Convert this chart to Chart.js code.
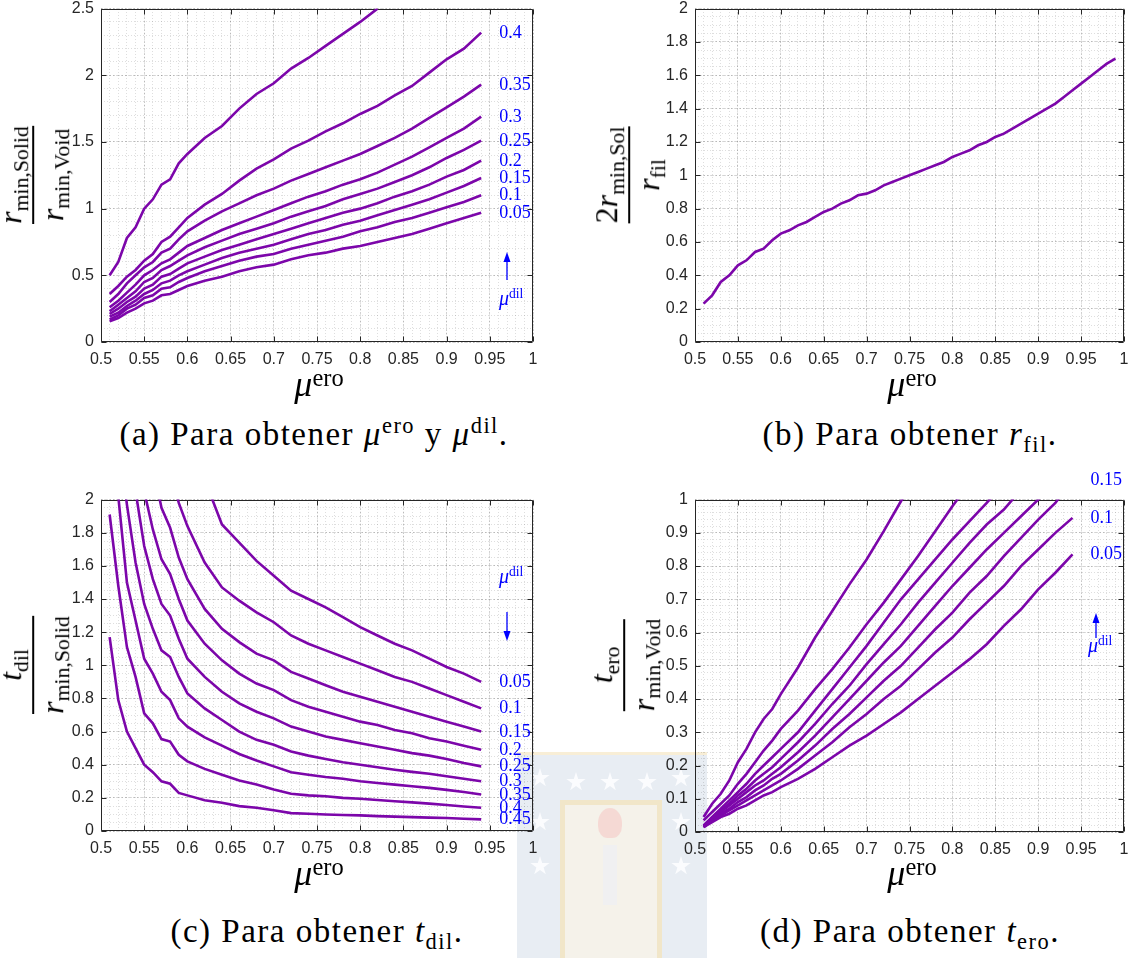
<!DOCTYPE html>
<html><head><meta charset="utf-8"><title>Gráficas de diseño</title>
<script src="https://cdn.jsdelivr.net/npm/chart.js@4.4.1/dist/chart.umd.min.js"></script>
<style>
html,body{margin:0;padding:0;background:#fff;}
#page{position:relative;width:1128px;height:958px;overflow:hidden;background:#fff;font-family:"Liberation Serif","Times New Roman",serif;color:#000;}
.panel{position:absolute;}
.panel canvas{display:block;}
.t{position:absolute;white-space:nowrap;line-height:1;}
.c{transform:translateX(-50%);}
.mi{font-style:italic;}
.sb{font-size:0.68em;position:relative;top:0.3em;}
.sp{font-size:0.68em;position:relative;top:-0.55em;}
.spx{font-size:0.68em;position:relative;top:-0.42em;}
.cap{letter-spacing:1.5px;font-size:33px;}
.frac{position:absolute;display:flex;flex-direction:column;align-items:center;white-space:nowrap;line-height:1;font-size:32px;transform:translate(-50%,-50%) rotate(-90deg);}
.frac .bar{align-self:stretch;height:1.6px;background:#000;margin:6px 0 2px;}
.blue{position:absolute;white-space:nowrap;line-height:1;color:#0000ff;font-size:18px;transform:translateY(-50%);}
.wm{position:absolute;opacity:0.7;}
.star{position:absolute;width:20px;height:20px;background:#fbfcfe;clip-path:polygon(50% 0%,61% 35%,98% 35%,68% 57%,79% 91%,50% 70%,21% 91%,32% 57%,2% 35%,39% 35%);}
</style></head>
<body>
<div id="page">
  <!-- faint watermark -->
  <div class="wm" style="left:517px;top:752px;width:190px;height:206px;background:#dfe6ef;border-top:3px solid #f6e8c6;"></div>
  <div class="wm" style="left:560px;top:800px;width:92px;height:158px;background:#fbf5e7;border:5px solid #f6e4b8;border-bottom:none;"></div>
  <div class="wm" style="left:598px;top:808px;width:24px;height:30px;background:#f5cfcb;border-radius:50% 50% 40% 40%;"></div>
  <div class="wm" style="left:603px;top:845px;width:14px;height:60px;background:#eef0f4;"></div>
  <div class="star" style="left:530px;top:768px"></div>
  <div class="star" style="left:566px;top:772px"></div>
  <div class="star" style="left:600px;top:772px"></div>
  <div class="star" style="left:637px;top:772px"></div>
  <div class="star" style="left:671px;top:768px"></div>
  <div class="star" style="left:530px;top:812px"></div>
  <div class="star" style="left:671px;top:812px"></div>
  <div class="star" style="left:530px;top:856px"></div>
  <div class="star" style="left:671px;top:856px"></div>

  <!-- y-axis fraction labels -->
  <div class="frac" style="left:31px;top:175px"><div><span class="mi">r</span><span class="sb">min,Solid</span></div><div class="bar"></div><div><span class="mi">r</span><span class="sb">min,Void</span></div></div>
  <div class="frac" style="left:627px;top:175px"><div>2<span class="mi">r</span><span class="sb">min,Sol</span></div><div class="bar"></div><div><span class="mi">r</span><span class="sb">fil</span></div></div>
  <div class="frac" style="left:31px;top:665px"><div><span class="mi">t</span><span class="sb">dil</span></div><div class="bar"></div><div><span class="mi">r</span><span class="sb">min,Solid</span></div></div>
  <div class="frac" style="left:622px;top:665px"><div><span class="mi">t</span><span class="sb">ero</span></div><div class="bar"></div><div><span class="mi">r</span><span class="sb">min,Void</span></div></div>

  <!-- x-axis labels -->
  <div class="t c" style="left:319px;top:366px;font-size:36px"><span class="mi">μ</span><span class="spx">ero</span></div>
  <div class="t c" style="left:912px;top:366px;font-size:36px"><span class="mi">μ</span><span class="spx">ero</span></div>
  <div class="t c" style="left:319px;top:855px;font-size:36px"><span class="mi">μ</span><span class="spx">ero</span></div>
  <div class="t c" style="left:912px;top:855px;font-size:36px"><span class="mi">μ</span><span class="spx">ero</span></div>

  <!-- captions -->
  <div class="t c cap" style="left:314px;top:418px">(a) Para obtener <span class="mi">μ</span><span class="sp">ero</span> y <span class="mi">μ</span><span class="sp">dil</span>.</div>
  <div class="t c cap" style="left:910px;top:418px">(b) Para obtener <span class="mi">r</span><span class="sb">fil</span>.</div>
  <div class="t c cap" style="left:317px;top:915px">(c) Para obtener <span class="mi">t</span><span class="sb">dil</span>.</div>
  <div class="t c cap" style="left:910px;top:915px">(d) Para obtener <span class="mi">t</span><span class="sb">ero</span>.</div>

  <!-- mu_dil direction notes -->
  <div class="t" style="left:499px;top:288px;color:#00f;font-size:20px"><span class="mi">μ</span><span class="sp">dil</span></div>
  <div class="t" style="left:499px;top:566px;color:#00f;font-size:20px"><span class="mi">μ</span><span class="sp">dil</span></div>
  <div class="t" style="left:1088px;top:635px;color:#00f;font-size:20px"><span class="mi">μ</span><span class="sp">dil</span></div>
</div>
<script>
// ---------------- data ----------------
const MU_ERO = [0.51,0.52,0.53,0.54,0.55,0.56,0.57,0.58,0.59,0.60,0.62,0.64,0.66,0.68,0.70,0.72,0.74,0.76,0.78,0.80,0.82,0.84,0.86,0.88,0.90,0.92,0.94];
const MU_ERO_B = [0.51,0.52,0.53,0.54,0.55,0.56,0.57,0.58,0.59,0.60,0.61,0.62,0.63,0.64,0.65,0.66,0.67,0.68,0.69,0.70,0.71,0.72,0.73,0.74,0.75,0.76,0.77,0.78,0.79,0.80,0.81,0.82,0.83,0.84,0.85,0.86,0.87,0.88,0.89,0.90,0.91,0.92,0.93,0.94,0.95,0.96,0.97,0.98,0.99];

// (a) r_min,Solid / r_min,Void for each mu_dil
const A_DIL005 = [0.155,0.18,0.22,0.25,0.29,0.31,0.35,0.36,0.39,0.42,0.46,0.49,0.53,0.56,0.58,0.62,0.65,0.67,0.70,0.72,0.75,0.78,0.81,0.85,0.89,0.93,0.97];
const A_DIL010 = [0.17,0.20,0.25,0.28,0.33,0.35,0.40,0.41,0.45,0.48,0.53,0.57,0.61,0.64,0.66,0.70,0.73,0.76,0.79,0.83,0.86,0.90,0.93,0.97,1.01,1.05,1.10];
const A_DIL015 = [0.19,0.22,0.27,0.31,0.36,0.39,0.44,0.46,0.50,0.53,0.58,0.63,0.67,0.70,0.73,0.77,0.81,0.84,0.88,0.91,0.95,0.99,1.03,1.07,1.12,1.17,1.23];
const A_DIL020 = [0.21,0.25,0.30,0.34,0.40,0.43,0.49,0.51,0.55,0.59,0.64,0.69,0.73,0.77,0.81,0.85,0.89,0.93,0.97,1.00,1.04,1.09,1.13,1.18,1.24,1.29,1.36];
const A_DIL025 = [0.23,0.28,0.33,0.38,0.45,0.48,0.54,0.57,0.61,0.65,0.71,0.76,0.81,0.85,0.89,0.94,0.98,1.02,1.07,1.11,1.15,1.20,1.25,1.31,1.38,1.44,1.51];
const A_DIL030 = [0.26,0.31,0.37,0.43,0.50,0.54,0.59,0.62,0.67,0.72,0.78,0.84,0.89,0.94,0.99,1.04,1.09,1.13,1.18,1.22,1.27,1.33,1.39,1.46,1.53,1.60,1.69];
const A_DIL035 = [0.30,0.36,0.44,0.50,0.56,0.60,0.67,0.70,0.77,0.83,0.91,0.98,1.04,1.10,1.15,1.21,1.26,1.31,1.36,1.41,1.47,1.53,1.60,1.68,1.76,1.84,1.93];
const A_DIL040 = [0.36,0.42,0.49,0.54,0.61,0.66,0.75,0.79,0.86,0.93,1.03,1.11,1.21,1.30,1.37,1.45,1.51,1.58,1.64,1.71,1.77,1.85,1.92,2.02,2.12,2.20,2.32];
const A_DIL045 = [0.50,0.60,0.78,0.86,1.00,1.07,1.18,1.22,1.34,1.41,1.53,1.62,1.75,1.86,1.94,2.05,2.13,2.22,2.31,2.40,2.50];

// (b) 2 r_min,Sol / r_fil
const B_RATIO = [0.23,0.28,0.36,0.40,0.46,0.49,0.54,0.56,0.61,0.65,0.67,0.70,0.72,0.75,0.78,0.80,0.83,0.85,0.88,0.89,0.91,0.94,0.96,0.98,1.00,1.02,1.04,1.06,1.08,1.11,1.13,1.15,1.18,1.20,1.23,1.25,1.28,1.31,1.34,1.37,1.40,1.43,1.47,1.51,1.55,1.59,1.63,1.67,1.70];

// (c) t_dil / r_min,Solid for each mu_dil
const C_DIL005 = [null,null,null,null,null,null,null,null,null,null,2.12,1.85,1.74,1.63,1.54,1.45,1.40,1.35,1.29,1.23,1.18,1.13,1.09,1.04,0.99,0.95,0.90];
const C_DIL010 = [null,null,null,null,null,null,null,2.20,1.98,1.84,1.62,1.47,1.39,1.32,1.26,1.18,1.13,1.09,1.05,1.01,0.97,0.93,0.90,0.86,0.82,0.78,0.74];
const C_DIL015 = [null,null,null,null,null,2.20,1.95,1.83,1.65,1.52,1.34,1.22,1.14,1.07,1.03,0.96,0.92,0.88,0.84,0.81,0.78,0.75,0.72,0.69,0.66,0.63,0.60];
const C_DIL020 = [null,null,null,null,2.05,1.82,1.64,1.55,1.40,1.27,1.13,1.03,0.95,0.89,0.85,0.79,0.75,0.72,0.69,0.66,0.64,0.61,0.59,0.56,0.54,0.515,0.49];
const C_DIL025 = [null,null,null,2.05,1.72,1.52,1.37,1.30,1.16,1.04,0.93,0.84,0.77,0.72,0.68,0.63,0.60,0.57,0.55,0.53,0.51,0.49,0.47,0.455,0.435,0.41,0.39];
const C_DIL030 = [null,2.40,1.97,1.62,1.37,1.22,1.09,1.05,0.93,0.83,0.74,0.67,0.60,0.55,0.52,0.48,0.455,0.435,0.415,0.40,0.385,0.37,0.357,0.345,0.33,0.315,0.30];
const C_DIL035 = [null,2.02,1.50,1.27,1.04,0.95,0.84,0.79,0.68,0.63,0.565,0.515,0.465,0.425,0.39,0.355,0.34,0.326,0.315,0.30,0.29,0.28,0.27,0.26,0.248,0.235,0.22];
const C_DIL040 = [1.91,1.48,1.11,0.93,0.71,0.65,0.555,0.54,0.46,0.42,0.375,0.34,0.305,0.28,0.25,0.225,0.215,0.21,0.20,0.195,0.187,0.18,0.173,0.165,0.157,0.148,0.14];
const C_DIL045 = [1.17,0.79,0.60,0.50,0.40,0.355,0.30,0.285,0.23,0.215,0.185,0.17,0.15,0.14,0.125,0.108,0.104,0.10,0.097,0.094,0.09,0.087,0.084,0.081,0.078,0.074,0.07];

// (d) t_ero / r_min,Void for each mu_dil
const D_DIL005 = [0.015,0.03,0.045,0.055,0.07,0.08,0.095,0.11,0.12,0.135,0.16,0.19,0.225,0.26,0.29,0.325,0.36,0.40,0.44,0.48,0.52,0.565,0.62,0.67,0.73,0.78,0.835];
const D_DIL010 = [0.015,0.035,0.05,0.065,0.08,0.095,0.11,0.125,0.14,0.155,0.19,0.23,0.27,0.315,0.355,0.40,0.44,0.49,0.54,0.585,0.64,0.69,0.74,0.80,0.85,0.90,0.945];
const D_DIL015 = [0.015,0.035,0.055,0.07,0.09,0.105,0.125,0.14,0.16,0.175,0.215,0.26,0.31,0.355,0.405,0.455,0.50,0.555,0.61,0.66,0.72,0.77,0.83,0.885,0.94,0.99,1.06];
const D_DIL020 = [0.015,0.04,0.06,0.08,0.10,0.12,0.14,0.155,0.175,0.195,0.24,0.29,0.345,0.40,0.455,0.51,0.56,0.62,0.68,0.74,0.795,0.85,0.90,0.95,1.00,1.06];
const D_DIL025 = [0.018,0.04,0.065,0.085,0.11,0.13,0.155,0.175,0.195,0.22,0.27,0.325,0.385,0.44,0.505,0.565,0.625,0.69,0.75,0.81,0.87,0.925,0.97,1.03];
const D_DIL030 = [0.02,0.045,0.07,0.095,0.12,0.145,0.175,0.20,0.225,0.25,0.30,0.365,0.43,0.495,0.56,0.63,0.70,0.76,0.82,0.88,0.935,0.99,1.05];
const D_DIL035 = [0.035,0.06,0.085,0.11,0.145,0.175,0.21,0.245,0.275,0.31,0.365,0.43,0.49,0.555,0.625,0.69,0.76,0.83,0.905,0.98,1.05];
const D_DIL040 = [0.045,0.085,0.115,0.155,0.21,0.25,0.30,0.34,0.37,0.415,0.495,0.585,0.665,0.745,0.82,0.905,0.995,1.08];

// tick label sets (major) and curve labels
const X_TICKS = [0.5,0.55,0.6,0.65,0.7,0.75,0.8,0.85,0.9,0.95,1];
const DIL_LABELS = ['0.05','0.1','0.15','0.2','0.25','0.3','0.35','0.4','0.45'];

// ---------------- drawing ----------------
const PURPLE = 'rgb(124,6,170)';
const TICK_COLOR = '#262626';
const page = document.getElementById('page');

const frame = {
  id: 'frame',
  beforeDatasetsDraw(chart) {
    const {ctx, chartArea: a, scales} = chart;
    ctx.save();
    ctx.strokeStyle = TICK_COLOR;
    ctx.lineWidth = 1;
    const l = Math.round(a.left) + 0.5, r = Math.round(a.right) - 0.5;
    const t = Math.round(a.top) + 0.5, b = Math.round(a.bottom) - 0.5;
    ctx.beginPath();
    ctx.rect(l, t, r - l, b - t);
    const tl = 5;
    scales.x.ticks.forEach(tk => {
      const p = Math.round(scales.x.getPixelForValue(tk.value)) + 0.5;
      ctx.moveTo(p, b); ctx.lineTo(p, b - tl);
      ctx.moveTo(p, t); ctx.lineTo(p, t + tl);
    });
    scales.y.ticks.forEach(tk => {
      const p = Math.round(scales.y.getPixelForValue(tk.value)) + 0.5;
      ctx.moveTo(l, p); ctx.lineTo(l + tl, p);
      ctx.moveTo(r, p); ctx.lineTo(r - tl, p);
    });
    ctx.stroke();
    ctx.restore();
  }
};

const fmt = v => String(+(+v).toFixed(2));

function panel(cfg) {
  const padL = 60, padT = 15, padR = 15, padB = 40;
  const left = cfg.L - padL, top = cfg.T - padT;
  const div = document.createElement('div');
  div.className = 'panel';
  div.style.left = left + 'px';
  div.style.top = top + 'px';
  div.style.width = (cfg.R - cfg.L + padL + padR) + 'px';
  div.style.height = (cfg.B - cfg.T + padT + padB) + 'px';
  const cv = document.createElement('canvas');
  div.appendChild(cv);
  page.insertBefore(div, page.querySelector('.frac'));

  const datasets = cfg.series.map(s => ({
    data: s.xs.slice(0, s.ys.length).map((x, i) => ({x: x, y: s.ys[i]})),
    borderColor: PURPLE,
    borderWidth: 2.6,
    pointRadius: 0,
    fill: false,
    tension: 0,
    spanGaps: false
  }));

  const tickFont = {family: 'Liberation Sans', size: 16};
  const chart = new Chart(cv, {
    type: 'line',
    data: {datasets},
    options: {
      responsive: true,
      maintainAspectRatio: false,
      animation: false,
      events: [],
      layout: {padding: {left: 0, top: padT, right: padR, bottom: 0}},
      plugins: {legend: {display: false}, tooltip: {enabled: false}},
      scales: {
        x: {
          type: 'linear', position: 'bottom', min: cfg.xMin, max: cfg.xMax,
          afterBuildTicks: s => { s.ticks = cfg.xTicks.map(v => ({value: v})); },
          ticks: {callback: fmt, maxRotation: 0, autoSkip: false, padding: 8, color: TICK_COLOR, font: tickFont},
          grid: {color: 'rgba(0,0,0,0.17)', drawTicks: false, lineWidth: 1},
          border: {display: false, dash: [2, 2]},
          afterFit: s => { s.height = padB; }
        },
        y: {
          type: 'linear', position: 'left', min: cfg.yMin, max: cfg.yMax,
          ticks: {stepSize: cfg.yStep, callback: fmt, autoSkip: false, padding: 7, color: TICK_COLOR, font: tickFont},
          grid: {color: 'rgba(0,0,0,0.17)', drawTicks: false, lineWidth: 1},
          border: {display: false, dash: [2, 2]},
          afterFit: s => { s.width = padL; }
        },
        x2: {
          type: 'linear', position: 'top', min: cfg.xMin, max: cfg.xMax,
          ticks: {display: false, stepSize: cfg.xMinor, maxTicksLimit: 1000},
          grid: {color: 'rgba(0,0,0,0.13)', drawTicks: false, lineWidth: 1},
          border: {display: false, dash: [1, 2]},
          afterFit: s => { s.height = 0; }
        },
        y2: {
          type: 'linear', position: 'right', min: cfg.yMin, max: cfg.yMax,
          ticks: {display: false, stepSize: cfg.yMinor, maxTicksLimit: 1000},
          grid: {color: 'rgba(0,0,0,0.13)', drawTicks: false, lineWidth: 1},
          border: {display: false, dash: [1, 2]},
          afterFit: s => { s.width = 0; }
        }
      }
    },
    plugins: [frame]
  });

  // curve labels at the end of each labelled series
  cfg.series.forEach(s => {
    if (!s.label) return;
    const n = s.ys.length - 1;
    const px = chart.scales.x.getPixelForValue(s.xs[n]);
    const py = chart.scales.y.getPixelForValue(s.ys[n]);
    const el = document.createElement('div');
    el.className = 'blue';
    el.textContent = s.label;
    el.style.left = (left + px + 18) + 'px';
    el.style.top = (top + py - 1) + 'px';
    page.appendChild(el);
  });
  return chart;
}

Chart.defaults.font.family = 'Liberation Sans';

panel({
  L: 101, T: 7, R: 533, B: 342,
  xMin: 0.5, xMax: 1, xTicks: X_TICKS, xMinor: 0.01,
  yMin: 0, yMax: 2.5, yStep: 0.5, yMinor: 0.1,
  series: [
    {xs: MU_ERO, ys: A_DIL005, label: DIL_LABELS[0]},
    {xs: MU_ERO, ys: A_DIL010, label: DIL_LABELS[1]},
    {xs: MU_ERO, ys: A_DIL015, label: DIL_LABELS[2]},
    {xs: MU_ERO, ys: A_DIL020, label: DIL_LABELS[3]},
    {xs: MU_ERO, ys: A_DIL025, label: DIL_LABELS[4]},
    {xs: MU_ERO, ys: A_DIL030, label: DIL_LABELS[5]},
    {xs: MU_ERO, ys: A_DIL035, label: DIL_LABELS[6]},
    {xs: MU_ERO, ys: A_DIL040, label: DIL_LABELS[7]},
    {xs: MU_ERO, ys: A_DIL045, label: null}
  ]
});

panel({
  L: 695, T: 7, R: 1124, B: 342,
  xMin: 0.5, xMax: 1, xTicks: X_TICKS, xMinor: 0.01,
  yMin: 0, yMax: 2, yStep: 0.2, yMinor: 0.05,
  series: [{xs: MU_ERO_B, ys: B_RATIO, label: null}]
});

panel({
  L: 101, T: 498, R: 533, B: 831,
  xMin: 0.5, xMax: 1, xTicks: X_TICKS, xMinor: 0.01,
  yMin: 0, yMax: 2, yStep: 0.2, yMinor: 0.05,
  series: [
    {xs: MU_ERO, ys: C_DIL005, label: DIL_LABELS[0]},
    {xs: MU_ERO, ys: C_DIL010, label: DIL_LABELS[1]},
    {xs: MU_ERO, ys: C_DIL015, label: DIL_LABELS[2]},
    {xs: MU_ERO, ys: C_DIL020, label: DIL_LABELS[3]},
    {xs: MU_ERO, ys: C_DIL025, label: DIL_LABELS[4]},
    {xs: MU_ERO, ys: C_DIL030, label: DIL_LABELS[5]},
    {xs: MU_ERO, ys: C_DIL035, label: DIL_LABELS[6]},
    {xs: MU_ERO, ys: C_DIL040, label: DIL_LABELS[7]},
    {xs: MU_ERO, ys: C_DIL045, label: DIL_LABELS[8]}
  ]
});

panel({
  L: 695, T: 498, R: 1124, B: 832,
  xMin: 0.5, xMax: 1, xTicks: X_TICKS, xMinor: 0.01,
  yMin: 0, yMax: 1, yStep: 0.1, yMinor: 0.02,
  series: [
    {xs: MU_ERO, ys: D_DIL005, label: DIL_LABELS[0]},
    {xs: MU_ERO, ys: D_DIL010, label: DIL_LABELS[1]},
    {xs: MU_ERO, ys: D_DIL015, label: DIL_LABELS[2]},
    {xs: MU_ERO, ys: D_DIL020, label: null},
    {xs: MU_ERO, ys: D_DIL025, label: null},
    {xs: MU_ERO, ys: D_DIL030, label: null},
    {xs: MU_ERO, ys: D_DIL035, label: null},
    {xs: MU_ERO, ys: D_DIL040, label: null}
  ]
});

// direction arrows
const svgNS = 'http://www.w3.org/2000/svg';
const svg = document.createElementNS(svgNS, 'svg');
svg.setAttribute('width', '1128'); svg.setAttribute('height', '958');
svg.style.position = 'absolute'; svg.style.left = '0'; svg.style.top = '0';
[
  {x: 507, y0: 280, y1: 258, tip: 252},
  {x: 507, y0: 612, y1: 634, tip: 641},
  {x: 1096, y0: 638, y1: 620, tip: 613}
].forEach(a => {
  const ln = document.createElementNS(svgNS, 'line');
  ln.setAttribute('x1', a.x); ln.setAttribute('x2', a.x);
  ln.setAttribute('y1', a.y0); ln.setAttribute('y2', a.y1);
  ln.setAttribute('stroke', '#0000ff'); ln.setAttribute('stroke-width', '1.3');
  svg.appendChild(ln);
  const dir = a.tip < a.y1 ? 1 : -1;
  const pg = document.createElementNS(svgNS, 'polygon');
  pg.setAttribute('points', `${a.x},${a.tip} ${a.x - 3.5},${a.tip + dir * 10} ${a.x + 3.5},${a.tip + dir * 10}`);
  pg.setAttribute('fill', '#0000ff');
  svg.appendChild(pg);
});
page.appendChild(svg);
</script>
</body></html>
